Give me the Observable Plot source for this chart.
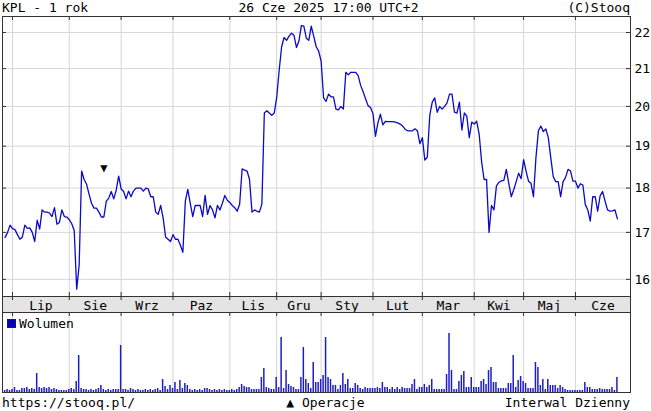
<!DOCTYPE html>
<html><head><meta charset="utf-8">
<script src="https://cdn.jsdelivr.net/npm/d3@7"></script>
<script src="https://cdn.jsdelivr.net/npm/@observablehq/plot@0.6"></script>
<style>
html,body{margin:0;padding:0;background:#fff;}
#wrap{position:relative;width:651px;height:411px;overflow:hidden;font-family:"DejaVu Sans Mono",monospace;font-size:13px;color:#000;}
.t{position:absolute;white-space:pre;line-height:15px;}
.p{position:absolute;left:0;line-height:0;}
.sq{display:inline-block;width:7px;height:7px;background:#0000cc;border:1px solid #222;margin-right:3px;vertical-align:0px;}
</style></head><body>
<div id="wrap">
  <div id="tl" class="t" style="left:2px;top:0px"></div>
  <div id="tc" class="t" style="left:3px;width:651px;text-align:center;top:0px"></div>
  <div id="tr" class="t" style="right:21px;top:0px"></div>
  <div id="price" class="p" style="top:16px"></div>
  <div id="band" class="p" style="top:296px"></div>
  <div id="vol" class="p" style="top:312px"></div>
  <div id="leg" class="t" style="left:7px;top:316px"><span class="sq"></span><span id="legtxt"></span></div>
  <div id="fl" class="t" style="left:2px;top:395px"></div>
  <div id="fc" class="t" style="left:0;width:651px;text-align:center;top:395px"></div>
  <div id="fr" class="t" style="right:21px;top:395px"></div>
</div>
<script>
const titleLeft = "KPL - 1 rok";
const titleCenter = "26 Cze 2025 17:00 UTC+2";
const titleRight = "(C)Stooq";
const footLeft = "https://stooq.pl/";
const footCenter = "▲ Operacje";
const footRight = "Interwal Dzienny";
const legendLabel = "Wolumen";

const monthLabels = ["Lip","Sie","Wrz","Paz","Lis","Gru","Sty","Lut","Mar","Kwi","Maj","Cze"];
const monthStart = [3,26,47,68,91,110,128,149,169,190,210,231];
const priceTicks = [16,17,18,19,20,21,22];

const close = [
16.89,17.0,17.16,17.08,17.06,16.95,16.85,16.9,17.16,17.09,
17.1,17.0,16.8,17.27,17.07,17.5,17.45,17.45,17.43,17.35,
17.55,17.18,17.22,17.5,17.35,17.34,17.28,17.19,17.04,15.8,
16.3,18.4,18.2,18.09,17.86,17.65,17.54,17.54,17.45,17.34,
17.34,17.7,17.77,17.92,17.75,17.95,18.28,17.98,17.92,17.75,
17.93,17.8,17.93,18.0,18.0,18.0,17.93,18.0,17.98,17.8,
17.8,17.45,17.4,17.6,17.32,16.9,16.85,16.8,16.95,16.85,
16.85,16.72,16.57,17.7,17.97,17.65,17.35,17.6,17.6,17.6,
17.35,17.83,17.4,17.6,17.5,17.32,17.6,17.5,17.65,17.83,
17.72,17.67,17.6,17.55,17.47,17.63,18.45,18.42,18.4,18.2,
17.45,17.5,17.47,17.45,17.63,19.83,19.89,19.83,19.77,19.83,
20.23,20.95,21.6,21.86,21.78,21.9,21.98,21.92,21.58,21.76,
22.2,22.18,21.84,21.78,22.18,21.9,21.6,21.48,21.2,20.22,
20.13,20.32,20.25,20.25,19.93,19.91,20.0,19.93,20.9,20.83,
20.9,20.9,20.9,20.81,20.55,20.38,20.2,20.02,19.97,19.82,
19.24,19.58,19.8,19.53,19.62,19.61,19.61,19.61,19.6,19.58,
19.55,19.5,19.42,19.38,19.38,19.38,19.43,19.38,19.06,19.21,
18.66,18.73,19.77,20.11,20.22,19.85,20.0,19.93,20.0,20.09,
20.32,20.32,19.85,19.83,20.11,19.4,19.83,19.75,19.21,19.6,
19.55,19.62,19.3,18.62,18.2,18.2,17.0,17.6,17.5,18.05,
18.13,18.17,18.18,18.44,18.11,17.8,17.96,18.15,18.35,18.22,
18.67,18.4,18.16,18.11,17.8,18.72,19.38,19.5,19.36,19.43,
19.21,18.72,18.27,18.15,18.15,17.8,18.15,18.25,18.44,18.4,
18.16,18.16,18.0,18.1,18.07,17.62,17.5,17.25,17.8,17.8,
17.47,17.82,17.92,17.7,17.5,17.47,17.48,17.5,17.3
];

const volume = [
2,3,2,3,5,2,2,4,4,5,
3,4,3,19,5,4,5,4,5,3,
4,3,2,2,2,2,3,4,3,11,
37,4,3,3,2,3,2,3,4,7,
3,2,3,2,3,3,3,47,3,3,
2,4,3,2,3,2,2,3,2,3,
2,3,4,2,13,6,3,7,4,10,
3,12,4,9,7,3,2,3,2,3,
2,4,4,3,2,3,2,3,2,3,
2,2,3,2,3,5,8,6,5,5,
3,3,3,3,15,24,5,4,3,3,
15,5,55,4,22,8,6,5,3,3,
15,45,13,9,4,30,10,10,13,17,
55,15,13,7,7,3,7,19,8,13,
4,4,9,7,4,3,5,4,4,4,
4,5,4,10,5,5,3,5,3,5,
3,5,4,4,4,8,13,3,5,5,
8,5,7,13,3,3,3,3,3,18,
59,22,3,3,11,17,21,5,5,15,
5,5,5,11,13,8,22,25,10,10,
4,4,4,4,9,9,37,5,12,16,
11,9,4,4,4,30,25,7,13,3,
13,7,7,7,4,7,5,3,2,2,
2,2,2,2,2,10,5,5,3,3,
3,4,3,3,3,3,5,2,15
];

const opIndex = [40];
const opLevel = [18.46];

document.getElementById("tl").textContent = titleLeft;
document.getElementById("tc").textContent = titleCenter;
document.getElementById("tr").textContent = titleRight;
document.getElementById("fl").textContent = footLeft;
document.getElementById("fc").textContent = footCenter;
document.getElementById("fr").textContent = footRight;
document.getElementById("legtxt").textContent = legendLabel;

const xDomain = [-1.05, 253.3];
const W = 651;
const gridColor = "#d6d6d6";
const frameColor = "#333";
const font = {fontFamily: "DejaVu Sans Mono, monospace", fontSize: "13px", background: "transparent", overflow: "visible"};
const common = {width: W, marginLeft: 2, marginRight: 21, marginTop: 0, marginBottom: 0, style: font,
  x: {domain: xDomain, axis: null}};

const priceH = 280;
const price = Plot.plot({
  ...common, height: priceH,
  y: {type: "log", domain: [15.65, 22.46], axis: null},
  marks: [
    Plot.gridX(monthStart, {stroke: gridColor, strokeOpacity: 1}),
    Plot.gridY(priceTicks, {stroke: gridColor, strokeOpacity: 1}),
    Plot.tickY(priceTicks, {y: d => d, insetRight: W - 23 - 4, stroke: frameColor}),
    Plot.tickY(priceTicks, {y: d => d, insetLeft: W - 23 - 4, stroke: frameColor}),
    Plot.tickX(monthStart, {x: d => d, insetBottom: priceH - 4, stroke: frameColor}),
    Plot.tickX(monthStart, {x: d => d, insetTop: priceH - 4, stroke: frameColor}),
    Plot.line(close, {x: (d, i) => i, y: d => d, stroke: "#0a0ac8", strokeWidth: 1.3}),
    Plot.text(opIndex, {x: d => d, y: (d, i) => opLevel[i], text: () => "▼", fontSize: 12, fill: "#000"}),
    Plot.axisY(priceTicks, {anchor: "right", tickSize: 0, tickPadding: 4, tickFormat: d => String(d), fontSize: 13}),
    Plot.frame({stroke: frameColor})
  ]
});
document.getElementById("price").appendChild(price);

const bandH = 16;
const band = Plot.plot({
  ...common, height: bandH,
  y: {domain: [0, 1], axis: null},
  marks: [
    Plot.frame({fill: "#e4e4e4", stroke: frameColor}),
    Plot.tickX(monthStart, {x: d => d, insetBottom: bandH - 4, stroke: frameColor}),
    Plot.text(monthLabels, {
      x: (d, i) => (monthStart[i] + (i + 1 < monthStart.length ? monthStart[i + 1] : xDomain[1])) / 2,
      text: d => d, frameAnchor: "middle", fontSize: 13, dy: 1
    })
  ]
});
document.getElementById("band").appendChild(band);

const volH = 80;
const vol = Plot.plot({
  ...common, height: volH,
  y: {domain: [0, 80], axis: null},
  marks: [
    Plot.gridX(monthStart, {stroke: gridColor, strokeOpacity: 1}),
    Plot.tickX(monthStart, {x: d => d, insetBottom: volH - 4, stroke: frameColor}),
    Plot.rectY(volume, {x1: (d, i) => i - 0.3, x2: (d, i) => i + 0.3, y: d => d, fill: "#1c1cc8"}),
    Plot.frame({stroke: frameColor})
  ]
});
document.getElementById("vol").appendChild(vol);
</script>
</body></html>
